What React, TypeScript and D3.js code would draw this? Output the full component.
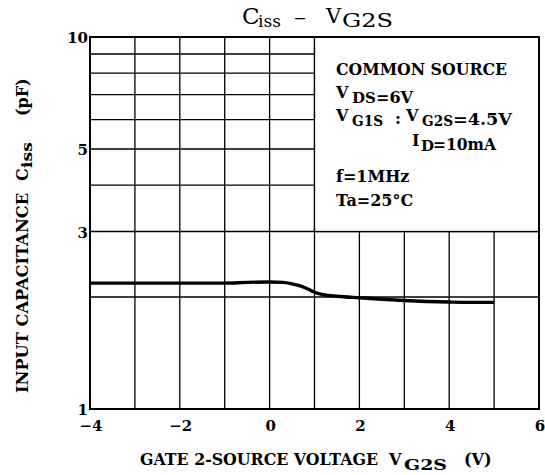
import * as d3 from 'd3';

// grid / tick values
const xGridVals = [-3, -2, -1, 0, 1, 2, 3, 4, 5];
const yGridVals = [2, 3, 4, 5, 6, 7, 8, 9];
const xTickVals = [-4, -2, 0, 2, 4, 6];
const yTickVals = [1, 3, 5, 10];

// curve
const vg2s = [-4, -3, -2, -1, -0.5, 0, 0.3, 0.5, 0.7, 0.9, 1.0, 1.2, 1.5, 2, 2.5, 3, 3.5, 4, 4.5, 5];
const ciss = [2.18, 2.18, 2.18, 2.18, 2.19, 2.195, 2.19, 2.17, 2.14, 2.09, 2.06, 2.03, 2.01, 1.99, 1.972, 1.958, 1.946, 1.939, 1.935, 1.935];

const FONT = '"DejaVu Serif", serif';

const App = () => {
  const width = 545;
  const height = 475;

  // plot area
  const x = d3.scaleLinear().domain([-4, 6]).range([90, 539]);
  const y = d3.scaleLog().domain([1, 10]).range([409, 37]);

  const points = vg2s.map((v, i) => [v, ciss[i]]);
  const line = d3.line()
    .x(d => x(d[0]))
    .y(d => y(d[1]))
    .curve(d3.curveMonotoneX);

  // legend box covers grid from x=1..6, y=3..10
  const boxX = x(1);
  const boxY = y(10);
  const boxW = x(6) - x(1);
  const boxH = y(3) - y(10);
  const lx = 336;

  const fmt = (v) => (v < 0 ? '\u2212' + Math.abs(v) : String(v));
  const fit = 'spacingAndGlyphs';

  return (
    <div style={{ position: 'absolute', left: 0, top: 0 }}>
      <svg width={width} height={height} style={{ display: 'block', background: '#fff' }}>
        {/* title */}
        <g fontFamily={FONT} fill="#000">
          <text x={242} y={24} fontSize={23}>C</text>
          <text x={258} y={27} fontSize={17}>iss</text>
          <text x={294} y={24} fontSize={20} textLength={12} lengthAdjust={fit}>–</text>
          <text x={326} y={23} fontSize={21}>V</text>
          <text x={342} y={27} fontSize={18} textLength={51} lengthAdjust={fit}>G2S</text>
        </g>

        {/* grid */}
        {xGridVals.map(v => (
          <line key={'gx' + v} x1={x(v)} x2={x(v)} y1={y(1)} y2={y(10)} stroke="#000" strokeWidth={1.3} />
        ))}
        {yGridVals.map(v => (
          <line key={'gy' + v} x1={x(-4)} x2={x(6)} y1={y(v)} y2={y(v)} stroke="#000" strokeWidth={1.3} />
        ))}

        {/* legend box */}
        <rect x={boxX} y={boxY} width={boxW} height={boxH} fill="#fff" stroke="#000" strokeWidth={1.3} />

        {/* frame */}
        <rect x={x(-4)} y={y(10)} width={x(6) - x(-4)} height={y(1) - y(10)} fill="none" stroke="#000" strokeWidth={2} />

        {/* curve */}
        <path d={line(points)} fill="none" stroke="#000" strokeWidth={3.4} strokeLinejoin="round" />

        {/* y tick labels */}
        {yTickVals.map(v => (
          <text key={'ty' + v} x={88} y={y(v) + 1} textAnchor="end" dominantBaseline="central"
            fontFamily={FONT} fontWeight="bold" fontSize={15}>{v}</text>
        ))}

        {/* x tick labels */}
        {xTickVals.map(v => (
          <text key={'tx' + v} x={x(v) + 1} y={431} textAnchor="middle"
            fontFamily={FONT} fontWeight="bold" fontSize={15}>{fmt(v)}</text>
        ))}

        {/* x axis title */}
        <g fontFamily={FONT} fontWeight="bold">
          <text x={140} y={465} fontSize={16} textLength={238} lengthAdjust={fit}>GATE 2-SOURCE VOLTAGE</text>
          <text x={389} y={465} fontSize={16}>V</text>
          <text x={404} y={470} fontSize={15} textLength={43} lengthAdjust={fit}>G2S</text>
          <text x={464} y={465} fontSize={16}>(V)</text>
        </g>

        {/* y axis title */}
        <g fontFamily={FONT} fontWeight="bold" transform="translate(28, 0) rotate(-90)">
          <text x={-393} y={0} fontSize={16} textLength={200} lengthAdjust={fit}>INPUT CAPACITANCE</text>
          <text x={-181} y={0} fontSize={16}>C</text>
          <text x={-168} y={4} fontSize={14} textLength={26} lengthAdjust={fit}>iss</text>
          <text x={-116} y={0} fontSize={16}>(pF)</text>
        </g>

        {/* legend text */}
        <g fontFamily={FONT} fontWeight="bold" fontSize={16}>
          <text x={lx} y={75} textLength={171} lengthAdjust={fit}>COMMON SOURCE</text>
          <text x={lx} y={98}>V</text>
          <text x={352} y={103} fontSize={15}>DS</text>
          <text x={376} y={103}>=6V</text>
          <text x={lx} y={121}>V</text>
          <text x={352} y={126} fontSize={15} textLength={31} lengthAdjust={fit}>G1S</text>
          <text x={395} y={124}>:</text>
          <text x={406} y={121}>V</text>
          <text x={422} y={126} fontSize={15} textLength={31} lengthAdjust={fit}>G2S</text>
          <text x={453} y={125} textLength={59} lengthAdjust={fit}>=4.5V</text>
          <text x={412} y={146}>I</text>
          <text x={421} y={151} fontSize={15}>D</text>
          <text x={433} y={150} textLength={63} lengthAdjust={fit}>=10mA</text>
          <text x={lx} y={182}>f=1MHz</text>
          <text x={lx} y={206}>Ta=25°C</text>
        </g>
      </svg>
    </div>
  );
};

export default App;
